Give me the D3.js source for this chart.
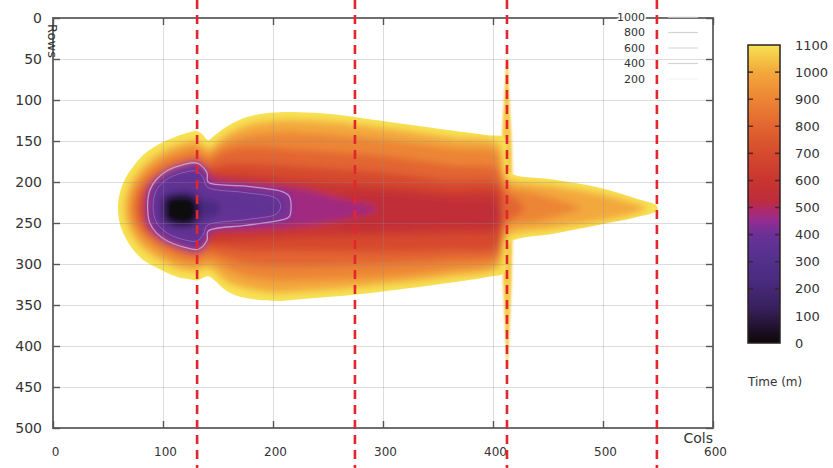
<!DOCTYPE html>
<html><head><meta charset="utf-8">
<script src="https://cdn.jsdelivr.net/npm/d3@7"></script>
<style>
body{margin:0;background:#fff;}
svg{display:block;font-family:"DejaVu Sans",Verdana,sans-serif;}
</style></head><body>
<svg id="c" width="833" height="468"></svg>
<script>
// ---------- data ----------
const xTicks = [0,100,200,300,400,500,600];
const yTicks = [0,50,100,150,200,250,300,350,400,450,500];
const cbTicks = [0,100,200,300,400,500,600,700,800,900,1000,1100];
const firebreakCols = [131, 274.5, 412.7, 549];
const legendLevels = [1000,800,600,400,200];
const legendLineColors = ["#eaeaea","#d4d4d4","#dcdcdc","#d8d2d2","#f2f0f8"];
const colorStopValues = [0,60,130,220,320,400,450,490,525,600,700,800,900,1000,1050,1100];
const colorStopColors = ["#0d0709","#22122f","#38205e","#472a7c","#553190","#6a3197","#932c93","#ad2a6c","#bd2c3c","#c83530","#d64a2e","#e26530","#ec8534","#f3a83c","#f5c545","#f7e253"];

// contour rings (col,row), with the travel time of each ring
const ring1100 = [[59,232],[61,212],[66,195],[73,181],[82,167],[95,155],[113,144],[125,139],[131,138],[136,142],[141,149],[147,143],[156,134],[170,124],[185,118],[206,115],[224,115],[252,117],[297,125],[361,137],[395,143],[410,146],[413,170],[415,188],[455,197],[497,207],[530,220],[549,229],[549,235],[530,243],[497,252],[455,263],[415,274],[412,295],[410,311],[395,316],[361,323],[297,334],[252,340],[224,343],[204,345],[170,340],[156,331],[147,320],[141,315],[136,317],[131,320],[125,319],[113,316],[95,305],[82,295],[73,283],[66,268],[61,252]];
const ring1000 = [[65,232],[67,213],[72,198],[79,185],[88,173],[100,162],[115,153],[131,149],[141,159],[150,150],[160,140],[180,129],[206,124],[224,124],[252,126],[297,133],[361,145],[405,153],[409,180],[413,195],[455,204],[497,214],[530,226],[540,232],[530,238],[497,248],[455,257],[413,267],[409,285],[405,305],[361,316],[297,326],[252,332],[224,334],[204,336],[175,330],[158,322],[148,311],[141,305],[131,309],[115,307],[100,298],[88,288],[79,278],[72,265],[67,250]];
const ring900 = [[70,232],[72,214],[77,200],[84,188],[93,178],[104,169],[117,162],[131,158],[141,167],[152,156],[170,146],[200,140],[224,140],[297,148],[361,158],[405,165],[409,195],[412,205],[440,214],[470,226],[480,232],[470,237],[440,248],[412,255],[409,270],[405,297],[361,307],[297,316],[224,320],[200,320],[175,315],[158,306],[146,298],[141,296],[131,300],[117,298],[104,291],[93,282],[84,273],[77,262],[72,249]];
const ring800 = [[74,232],[76,215],[81,203],[88,192],[97,183],[108,175],[120,170],[131,168],[141,175],[152,165],[175,158],[224,161],[297,168],[361,179],[405,185],[409,205],[412,212],[425,225],[428,232],[425,238],[412,250],[409,260],[405,288],[361,295],[297,300],[224,303],[190,302],[165,297],[150,290],[141,287],[131,292],[120,290],[108,284],[97,277],[88,268],[81,259],[76,247]];
const ring700 = [[78,232],[80,217],[84,206],[91,197],[100,189],[111,183],[122,179],[131,177],[141,183],[160,178],[224,181],[297,188],[361,198],[405,202],[408,230],[405,278],[361,283],[297,285],[224,284],[180,284],[150,280],[141,278],[131,284],[122,283],[111,279],[100,273],[91,266],[84,257],[80,246]];
const ring600 = [[82,232],[83,219],[87,209],[94,200],[103,193],[114,188],[124,185],[131,184],[145,189],[180,192],[224,198],[297,205],[361,212],[405,214],[407,236],[405,258],[361,262],[297,265],[224,267],[180,270],[145,272],[131,277],[124,277],[114,274],[103,268],[94,262],[87,254],[83,244]];
const ring550 = [[260,218],[297,215],[361,222],[405,226],[407,237],[405,250],[361,252],[297,256],[260,254],[250,236]];
const ring470 = [[84,231],[85,212],[90,200],[100,190],[112,183],[122,177],[131,175],[140,184],[143,194],[180,202],[224,208],[260,220],[295,233],[260,246],[224,254],[180,258],[143,262],[140,272],[134,285],[118,282],[100,272],[90,262],[85,250]];
const ring410 = [[86,230],[88,210],[94,197],[104,186],[118,179],[131,177],[140,189],[141,200],[175,205],[209,212],[215,218],[215,242],[209,246],[175,253],[141,260],[140,271],[132,282],[118,279],[104,272],[94,262],[88,250]];
const ring360 = [[91,230],[93,213],[98,203],[107,194],[120,188],[131,187],[137,196],[140,206],[175,213],[203,220],[207,230],[203,239],[175,246],[140,253],[137,263],[131,272],[118,270],[106,264],[98,256],[93,246]];
const ring250 = [[99,232],[101,218],[110,212],[126,212],[134,220],[150,226],[150,238],[134,246],[126,254],[110,254],[101,247]];
const ring110 = [[100,233],[101,220],[111,215],[126,216],[132,223],[133,242],[127,252],[111,253],[101,246]];
const ring10 = [[102,233],[103,222],[112,218],[126,219],[130,225],[130,243],[126,250],[112,251],[103,245]];
const ringValues = [1100,1000,900,800,700,600,550,470,410,360,250,110,10];
const firebreakSpindle = [[413,48],[415,100],[417,150],[418,232],[417,320],[415,380],[413,427],[411,380],[409,320],[407,232],[408,150],[410,100]];
const spindleValue = 1060;

// ---------- drawing ----------
const rings = [ring1100,ring1000,ring900,ring800,ring700,ring600,ring550,ring470,ring410,ring360,ring250,ring110,ring10];
const svg = d3.select("#c");
const W = 833, H = 468;
const x = d3.scaleLinear().domain([0,600]).range([53,713]);
const y = d3.scaleLinear().domain([0,500]).range([18,428]);
const cb = d3.scaleLinear().domain([0,1100]).range([343,45]);
const color = d3.scaleLinear().domain(colorStopValues).range(colorStopColors).clamp(true);
const ringPath = d3.line().x(d=>x(d[0])).y(d=>y(d[1])).curve(d3.curveCatmullRomClosed.alpha(0.5));

const defs = svg.append("defs");
defs.append("clipPath").attr("id","fieldClip").append("path").attr("d", ringPath(ring1100));
defs.append("clipPath").attr("id","plotClip").append("rect")
  .attr("x",x(0)).attr("y",y(0)).attr("width",x(600)-x(0)).attr("height",y(500)-y(0));
const blur = defs.append("filter").attr("id","soft").attr("x","-20%").attr("y","-20%").attr("width","140%").attr("height","140%");
blur.append("feGaussianBlur").attr("stdDeviation",3.6);
const blur2 = defs.append("filter").attr("id","soft2");
blur2.append("feGaussianBlur").attr("stdDeviation",0.8);

// firebreak spindle (under the field)
svg.append("path").attr("d", ringPath(firebreakSpindle))
  .attr("fill", color(spindleValue)).attr("filter","url(#soft2)");

// field
const fieldOuter = svg.append("g").attr("clip-path","url(#fieldClip)");
const field = fieldOuter.append("g").attr("filter","url(#soft)");
rings.forEach((r,i)=>{
  field.append("path").attr("d", ringPath(r))
    .attr("fill", color(ringValues[i]))
    .attr("stroke", i===0 ? color(ringValues[i]) : "none")
    .attr("stroke-width", i===0 ? 16 : 0);
});
// light contour lines around the early-arrival zone
fieldOuter.append("path").attr("d", ringPath(ring410))
  .attr("fill","none").attr("stroke","#cdb8f2").attr("stroke-width",1.3).attr("opacity",0.75);
fieldOuter.append("path").attr("d", ringPath(ring360))
  .attr("fill","none").attr("stroke","#b9a2e6").attr("stroke-width",1).attr("opacity",0.4);

// grid (over field, faint)
const grid = svg.append("g").attr("clip-path","url(#plotClip)");
grid.append("g").attr("transform",`translate(0,${y(500)})`)
  .call(d3.axisBottom(x).tickValues(xTicks).tickSize(-(y(500)-y(0))).tickFormat(""));
grid.append("g").attr("transform",`translate(${x(0)},0)`)
  .call(d3.axisLeft(y).tickValues(yTicks).tickSize(-(x(600)-x(0))).tickFormat(""));
grid.selectAll(".domain").remove();
grid.selectAll("line").attr("stroke","#8a8a8a").attr("stroke-opacity",0.3).attr("stroke-width",1);

// frame
svg.append("rect").attr("x",x(0)).attr("y",y(0)).attr("width",x(600)-x(0)).attr("height",y(500)-y(0))
  .attr("fill","none").attr("stroke","#6e6e6e").attr("stroke-width",2);

// axes
function styleAxis(g){
  g.select(".domain").remove();
  g.selectAll(".tick line").attr("stroke","#555").attr("stroke-width",1.4);
  g.selectAll("text").attr("fill","#333").attr("font-family","DejaVu Sans, Verdana, sans-serif");
}
const gx = svg.append("g").attr("transform",`translate(0,${y(500)})`)
  .call(d3.axisBottom(x).tickValues(xTicks).tickSizeInner(-7).tickSizeOuter(0).tickPadding(19));
styleAxis(gx); gx.selectAll("text").attr("font-size",12).attr("dx",2);
const gy = svg.append("g").attr("transform",`translate(${x(0)},0)`)
  .call(d3.axisLeft(y).tickValues(yTicks).tickSizeInner(-7).tickSizeOuter(0).tickPadding(11));
styleAxis(gy); gy.selectAll("text").attr("font-size",14);
const gt = svg.append("g").attr("transform",`translate(0,${y(0)})`)
  .call(d3.axisTop(x).tickValues(xTicks).tickSizeInner(-7).tickSizeOuter(0).tickFormat(""));
styleAxis(gt);
const gr = svg.append("g").attr("transform",`translate(${x(600)},0)`)
  .call(d3.axisRight(y).tickValues(yTicks).tickSizeInner(-7).tickSizeOuter(0).tickFormat(""));
styleAxis(gr);

svg.append("text").attr("x",x(600)).attr("y",443).attr("text-anchor","end")
  .attr("font-size",14).attr("fill","#333").text("Cols");
svg.append("text").attr("transform",`translate(48,41) rotate(90)`).attr("text-anchor","middle")
  .attr("font-size",13).attr("fill","#333").text("Rows");

// contour legend
const lg = svg.append("g");
legendLevels.forEach((v,i)=>{
  const yy = 17 + i*15.5;
  lg.append("line").attr("x1",668).attr("x2",698).attr("y1",yy).attr("y2",yy)
    .attr("stroke",legendLineColors[i]).attr("stroke-width",1.2);
  lg.append("text").attr("x",645).attr("y",yy).attr("dy","0.35em").attr("text-anchor","end")
    .attr("font-size",11).attr("fill","#333")
    .attr("stroke","#fff").attr("stroke-width",3).attr("paint-order","stroke")
    .text(v);
});

// firebreak dashed lines
svg.append("g").selectAll("line").data(firebreakCols).join("line")
  .attr("x1",d=>x(d)).attr("x2",d=>x(d)).attr("y1",0).attr("y2",H)
  .attr("stroke","#e3252d").attr("stroke-width",2.6).attr("stroke-dasharray","9,6");

// colorbar
const grad = defs.append("linearGradient").attr("id","cbGrad").attr("x1",0).attr("x2",0).attr("y1",0).attr("y2",1);
colorStopValues.slice().reverse().forEach(v=>{
  grad.append("stop").attr("offset", ((1100-v)/1100*100)+"%").attr("stop-color", color(v));
});
svg.append("rect").attr("x",748).attr("y",cb(1100)).attr("width",32).attr("height",cb(0)-cb(1100))
  .attr("fill","url(#cbGrad)").attr("stroke","#2a2222").attr("stroke-width",1.5);
const cbInner = cbTicks.filter(v=>v>0 && v<1100);
svg.append("g").selectAll("path").data(cbInner).join("path")
  .attr("d",d=>`M748,${cb(d)}h5M775,${cb(d)}h5`)
  .attr("stroke","#3a2020").attr("stroke-width",1.6).attr("opacity",0.8);
const gc = svg.append("g").attr("transform","translate(780,0)")
  .call(d3.axisRight(cb).tickValues(cbTicks).tickSize(0).tickPadding(15).tickFormat(d3.format("d")));
gc.select(".domain").remove();
gc.selectAll("text").attr("font-size",13).attr("fill","#333").attr("font-family","DejaVu Sans, Verdana, sans-serif");
svg.append("text").attr("x",748).attr("y",386).attr("font-size",12).attr("fill","#333").text("Time (m)");
</script>
</body></html>
